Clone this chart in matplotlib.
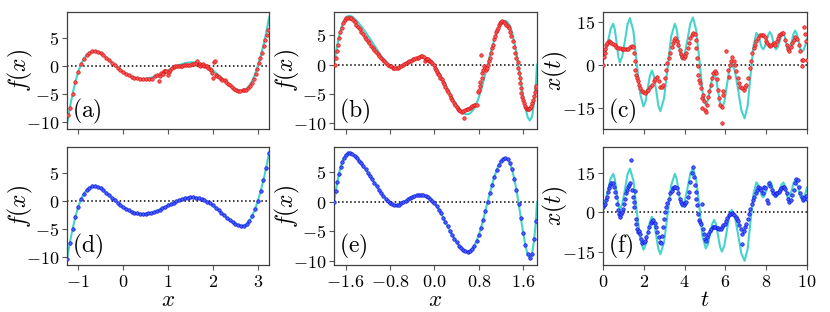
import matplotlib
matplotlib.use('Agg')
import matplotlib.pyplot as plt

plt.rcParams['mathtext.fontset'] = 'cm'
plt.rcParams['font.family'] = ['DejaVu Serif']

# ---------------- data ----------------
# panel (a)/(d): true function on x
AD_X = [-1.25,-1.1875,-1.125,-1.0625,-1.0,-0.9375,-0.875,-0.8125,-0.75,-0.6875,-0.625,-0.5625,-0.5,-0.4375,
        -0.375,-0.3125,-0.25,-0.1875,-0.125,-0.0625,0.0,0.0625,0.125,0.1875,0.25,0.3125,0.375,0.4375,0.5,0.5625,
        0.625,0.6875,0.75,0.8125,0.875,0.9375,1.0,1.0625,1.125,1.1875,1.25,1.3125,1.375,1.4375,1.5,1.5625,1.625,
        1.6875,1.75,1.8125,1.875,1.9375,2.0,2.0625,2.125,2.1875,2.25,2.3125,2.375,2.4375,2.5,2.5625,2.625,2.6875,
        2.75,2.8125,2.875,2.9375,3.0,3.0625,3.125,3.1875,3.25]
AD_Y = [-10.45,-7.55,-5.0,-2.83,-1.05,0.30,1.3,1.98,2.4,2.62,2.65,2.54,2.3,1.93,1.5,1.06,0.6,0.14,-0.3,-0.71,
        -1.08,-1.41,-1.7,-1.93,-2.1,-2.24,-2.32,-2.34,-2.3,-2.22,-2.1,-1.94,-1.75,-1.53,-1.3,-1.05,-0.8,-0.54,
        -0.28,-0.04,0.17,0.35,0.5,0.60,0.66,0.67,0.62,0.52,0.36,0.15,-0.12,-0.44,-0.8,-1.21,-1.65,-2.1,-2.55,
        -3.02,-3.45,-3.81,-4.1,-4.33,-4.45,-4.41,-4.15,-3.57,-2.7,-1.49,0.0,1.71,3.7,6.0,8.68]

# panel (a): red estimates
A_X = [-1.22,-1.1875,-1.125,-1.0625,-1.0,-0.9375,-0.875,-0.8125,-0.75,-0.6875,-0.625,-0.5625,-0.5,-0.4375,
       -0.375,-0.3125,-0.25,-0.1875,-0.125,-0.0625,0.0,0.0625,0.125,0.1875,0.25,0.3125,0.375,0.4375,
       0.50,0.57,0.65,0.70,0.76,0.79,0.82,0.85,0.88,0.91,0.93,0.96,0.99,1.02,1.05,1.09,1.13,1.16,1.20,1.24,
       1.28,1.32,1.36,1.41,1.45,1.50,1.54,1.59,1.62,1.65,1.68,1.71,1.72,1.75,1.78,1.81,1.84,1.87,1.90,1.93,
       1.96,1.98,2.00,2.03,2.04,2.06,2.09,2.13,2.17,2.21,2.26,2.30,2.34,2.39,2.43,2.48,2.52,2.57,2.61,2.66,
       2.70,2.74,2.79,2.83,2.87,2.91,2.95,2.98,3.02,3.06,3.09,3.13,3.17,3.20,3.23]
A_Y = [-8.9,-7.55,-5.0,-2.83,-1.05,0.30,1.3,1.98,2.4,2.62,2.65,2.54,2.3,1.93,1.5,1.06,0.6,0.14,-0.3,-0.71,
       -1.08,-1.41,-1.7,-1.93,-2.1,-2.24,-2.32,-2.34,
       -2.3,-2.4,-2.3,-1.9,-1.6,-2.7,-1.9,-1.3,-1.5,-1.0,-0.9,-1.0,-1.6,-1.1,-0.8,-0.4,-0.2,-0.1,-0.05,0.0,
       0.05,0.05,0.1,0.2,0.2,0.25,0.3,0.35,0.6,0.8,0.2,0.4,-0.1,0.2,0.3,0.05,-0.1,0.05,-0.3,-0.55,
       -0.7,-1.3,-2.2,0.65,0.95,-1.6,-1.8,-2.0,-2.3,-2.45,-2.6,-2.9,-3.2,-3.5,-3.8,-4.1,-4.4,-4.55,-4.5,-4.3,
       -4.3,-4.25,-4.0,-3.6,-3.1,-2.4,-1.5,-0.6,0.5,1.5,2.4,3.5,4.6,5.6,6.4]

# panel (b)/(e): true function on x
BE_X = [-1.81,-1.78,-1.75,-1.72,-1.69,-1.66,-1.63,-1.60,-1.56,-1.52,-1.48,-1.44,-1.40,-1.36,-1.32,-1.28,-1.24,
        -1.20,-1.16,-1.12,-1.08,-1.04,-1.00,-0.96,-0.92,-0.88,-0.84,-0.80,-0.76,-0.72,-0.68,-0.64,-0.60,-0.56,
        -0.52,-0.48,-0.44,-0.40,-0.36,-0.32,-0.28,-0.24,-0.20,-0.16,-0.12,-0.08,-0.04,0.00,0.04,0.08,0.12,0.16,
        0.20,0.24,0.28,0.32,0.36,0.40,0.44,0.48,0.52,0.56,0.60,0.64,0.68,0.72,0.76,0.80,0.84,0.88,0.92,0.96,
        1.00,1.04,1.08,1.12,1.16,1.20,1.24,1.28,1.32,1.36,1.40,1.44,1.48,1.52,1.56,1.60,1.64,1.68,1.72,1.76,
        1.80,1.83,1.85]
BE_Y = [0.0,1.8,3.4,4.8,5.9,6.8,7.5,7.95,8.25,8.3,8.15,7.85,7.45,7.0,6.55,6.0,5.5,4.95,4.4,3.8,3.25,2.65,2.05,
        1.5,1.0,0.55,0.15,-0.15,-0.4,-0.55,-0.55,-0.45,-0.25,0.0,0.2,0.45,0.65,0.85,1.0,1.1,1.2,1.22,1.2,1.05,
        0.8,0.5,0.15,-0.2,-0.7,-1.3,-1.95,-2.7,-3.4,-4.15,-4.9,-5.6,-6.25,-6.85,-7.4,-7.85,-8.2,-8.4,-8.45,
        -8.3,-7.95,-7.4,-6.6,-5.6,-4.4,-3.0,-1.5,0.0,1.5,2.9,4.2,5.35,6.3,6.95,7.35,7.45,7.2,6.6,5.5,3.9,2.0,
        -0.3,-2.8,-5.2,-7.3,-8.9,-9.5,-8.9,-6.3,-3.2,0.0]

# panel (b): red estimates
B_X = [-1.79,-1.77,-1.75,-1.73,-1.72,-1.70,-1.67,-1.65,-1.62,-1.59,-1.56,-1.53,-1.50,-1.47,-1.44,-1.41,-1.38,
       -1.35,-1.32,-1.29,-1.26,-1.23,-1.20,-1.17,-1.14,-1.11,-1.08,-1.05,-1.02,-0.99,-0.96,-0.93,-0.90,-0.87,
       -0.84,-0.80,-0.78,-0.75,-0.72,-0.69,-0.66,-0.63,-0.60,-0.57,-0.54,-0.51,-0.48,-0.45,-0.42,-0.39,-0.36,
       -0.33,-0.30,-0.27,-0.24,-0.22,-0.19,-0.17,-0.16,-0.14,-0.12,-0.10,-0.08,-0.06,-0.04,-0.01,0.01,0.03,
       0.05,0.07,0.08,0.11,0.13,0.16,0.18,0.20,0.23,0.25,0.28,0.30,0.32,0.35,0.37,0.40,0.42,0.44,0.47,0.49,
       0.52,0.54,0.56,0.59,0.61,0.64,0.66,0.68,0.71,0.73,0.76,0.78,0.80,0.82,0.83,0.84,0.85,0.86,0.88,0.89,
       0.91,0.93,0.95,0.97,0.98,1.00,1.02,1.04,1.06,1.07,1.09,1.11,1.13,1.15,1.16,1.18,1.20,1.22,1.25,1.27,
       1.30,1.32,1.34,1.37,1.39,1.42,1.44,1.46,1.48,1.50,1.51,1.52,1.54,1.55,1.56,1.57,1.58,1.60,1.61,1.63,
       1.65,1.67,1.69,1.70,1.72,1.74,1.76,1.78,1.79,1.81,1.83,1.84]
B_Y = [0,1.1,2.3,3.4,4.6,5.5,6.3,7.0,7.6,7.9,8.0,8.0,7.9,7.6,7.2,6.8,6.4,6.0,5.6,5.2,4.7,4.4,4.0,3.6,3.2,2.9,
       2.5,2.2,1.8,1.5,1.1,0.8,0.6,0.2,0,-0.2,-0.3,-0.5,-0.6,-0.6,-0.5,-0.4,-0.2,0,0.1,0.2,0.4,0.6,0.7,0.9,
       1.0,1.1,1.15,1.3,1.4,1.55,1.3,0.7,0.9,1.0,0.9,0.7,0.6,0.5,0.3,0.0,-0.5,-0.9,-1.3,-1.6,-1.8,-2.2,-2.5,
       -2.9,-3.3,-3.8,-4.3,-4.7,-5.2,-5.6,-6.1,-6.5,-6.9,-7.2,-7.5,-7.8,-7.9,-8.0,-7.9,-9.1,-7.7,-7.6,-7.5,
       -7.4,-7.2,-7.0,-6.9,-6.8,-6.8,-4.7,-4.3,-3.6,-3.0,1.7,-2.3,-1.4,-0.9,-0.3,-0.6,-0.9,-0.5,0,0.6,1.1,
       2.0,2.8,3.4,4.3,4.9,5.5,5.9,6.3,6.7,7.0,7.2,7.4,7.2,7.0,6.8,6.6,6.2,5.6,4.9,4.0,3.0,2.0,1.1,0.5,-0.5,
       -1.4,-2.3,-3.2,-4.0,-4.9,-5.5,-6.0,-6.6,-7.0,-7.4,-7.5,-7.6,-7.5,-7.4,-7.1,-6.6,-6.0,-5.3,-4.6,-4.0,-3.7]

# panel (c)/(f): true trajectory x(t)
CF_T = [0.0,0.125,0.25,0.375,0.50,0.58,0.67,0.75,0.83,0.95,1.08,1.20,1.32,1.49,1.65,1.82,1.98,2.09,2.19,2.30,
        2.40,2.50,2.61,2.71,2.81,2.99,3.17,3.34,3.52,3.61,3.70,3.79,3.88,4.01,4.15,4.28,4.41,4.57,4.73,4.88,
        5.04,5.14,5.25,5.35,5.45,5.55,5.64,5.74,5.83,5.95,6.07,6.19,6.31,6.47,6.63,6.78,6.94,7.09,7.23,7.38,
        7.52,7.60,7.69,7.77,7.85,7.93,8.02,8.10,8.18,8.26,8.33,8.41,8.48,8.57,8.66,8.75,8.84,8.90,8.97,9.03,
        9.09,9.17,9.26,9.34,9.42,9.50,9.59,9.67,9.75,9.83,9.92,10.0]
CF_Y = [2.5,4.25,8.5,12.75,14.5,12.53,7.75,2.97,1.0,3.26,8.75,14.24,16.5,12.0,0.85,-9.8,-14.3,-12.47,-8.05,
        -3.62,-1.8,-3.87,-8.9,-13.93,-16.0,-11.55,-0.75,10.05,14.5,12.67,8.25,3.83,2.0,4.15,9.35,14.55,16.7,
        12.25,1.45,-9.35,-13.8,-12.22,-8.4,-4.58,-3.0,-4.75,-9.0,-13.25,-15.0,-12.69,-7.1,-1.51,0.8,-2.02,
        -8.85,-15.68,-18.5,-14.15,-3.6,6.95,11.3,10.47,8.45,6.43,5.6,6.48,8.6,10.72,11.6,10.72,8.6,6.48,5.6,
        6.42,8.4,10.38,11.2,10.29,8.1,5.91,5.0,6.04,8.55,11.06,12.1,11.03,8.45,5.87,4.8,5.3,7.0,9.3]

# panel (c): red estimates
C_T = [0.0,0.05,0.08,0.12,0.17,0.21,0.28,0.35,0.41,0.50,0.58,0.66,0.74,0.83,0.91,0.99,1.07,1.16,1.24,1.32,
       1.40,1.45,1.52,1.55,1.59,1.62,1.67,1.72,1.77,1.83,1.90,1.98,2.07,2.15,2.23,2.31,2.40,2.48,2.56,2.64,
       2.73,2.81,2.89,2.96,3.02,3.09,3.16,3.22,3.29,3.36,3.42,3.49,3.55,3.62,3.69,3.75,3.82,3.88,3.95,4.02,
       4.08,4.15,4.21,4.28,4.35,4.43,4.50,4.55,4.58,4.61,4.64,4.68,4.71,4.76,4.79,4.83,4.84,4.91,4.96,5.01,
       5.06,5.09,5.14,5.21,5.27,5.34,5.40,5.47,5.54,5.60,5.65,5.70,5.75,5.82,5.83,5.87,5.90,6.03,6.12,6.20,
       6.23,6.28,6.33,6.40,6.46,6.53,6.60,6.66,6.73,6.81,6.89,6.96,7.02,7.11,7.19,7.26,7.32,7.39,7.45,7.52,
       7.60,7.69,7.77,7.85,7.92,7.98,8.05,8.12,8.18,8.25,8.31,8.38,8.45,8.51,8.58,8.64,8.71,8.78,8.84,8.93,
       9.01,9.09,9.14,9.21,9.27,9.34,9.42,9.50,9.59,9.67,9.74,9.77,9.80,9.83,9.90,9.95,9.98]
C_Y = [0.0,2.8,4.3,5.8,7.0,7.9,8.4,8.1,7.9,7.5,7.0,6.3,6.1,6.0,5.8,5.6,5.7,5.6,5.8,6.3,
       6.7,6.3,4.3,1.4,-1.5,-3.3,-4.4,-5.6,-6.8,-7.9,-8.9,-9.3,-9.6,-9.1,-8.5,-7.7,-6.8,-5.6,-4.7,-4.2,
       -5.6,-7.4,-7.7,-6.8,-4.4,-1.5,0.8,2.6,4.3,6.3,7.9,9.0,9.6,8.6,7.2,5.5,4.0,2.8,2.6,3.2,
       4.3,6.1,7.8,9.6,10.7,11.3,11.0,9.0,6.1,2.6,-0.4,-3.3,-5.0,-6.2,-7.9,-11.4,-14.9,-10.3,-12.6,-15.5,
       -16.3,-13.8,-10.9,-9.1,-6.8,-4.4,-2.7,-2.1,-2.7,-4.7,-8.5,-11.4,-13.8,-14.4,-20.0,-9.1,-10.5,5.1,-1.5,-3.9,
       0.2,1.4,2.8,1.6,0.2,-2.1,-4.4,-6.2,-7.4,-7.9,-8.5,-7.7,-6.8,-4.4,-0.9,1.4,4.3,6.1,7.2,8.4,
       9.6,10.5,10.7,10.5,9.8,8.6,7.8,7.0,6.7,7.2,7.5,7.7,7.2,8.4,9.6,10.5,11.0,11.3,11.2,9.0,
       7.2,5.8,5.1,6.3,7.8,9.0,9.8,9.3,7.2,4.9,2.0,-0.4,2.0,13.3,11.0,8.4,2.0]

# panel (f): blue estimates
F_T = [0.0,0.05,0.1,0.15,0.2,0.25,0.3,0.35,0.41,0.48,0.53,0.58,0.63,0.68,0.73,0.78,0.83,0.88,0.93,0.98,
       1.02,1.07,1.12,1.17,1.22,1.27,1.32,1.39,1.42,1.47,1.50,1.54,1.60,1.64,1.67,1.70,1.77,1.82,1.87,1.93,
       2.0,2.07,2.13,2.2,2.26,2.33,2.40,2.46,2.53,2.60,2.66,2.73,2.79,2.86,2.91,2.96,3.01,3.06,3.11,3.16,
       3.22,3.29,3.36,3.42,3.49,3.55,3.62,3.69,3.75,3.82,3.88,3.95,4.02,4.08,4.15,4.21,4.28,4.35,4.40,4.45,
       4.50,4.55,4.58,4.61,4.66,4.71,4.76,4.81,4.84,4.88,4.93,4.98,5.04,5.11,5.17,5.24,5.31,5.37,5.44,5.50,
       5.57,5.64,5.70,5.77,5.83,5.90,5.97,6.03,6.10,6.17,6.23,6.30,6.36,6.43,6.50,6.56,6.63,6.69,6.76,6.79,
       6.83,6.89,6.96,7.02,7.09,7.16,7.22,7.29,7.36,7.42,7.49,7.55,7.62,7.69,7.75,7.82,7.88,7.95,8.02,8.08,
       8.15,8.21,8.28,8.35,8.41,8.48,8.55,8.61,8.68,8.74,8.81,8.88,8.94,9.01,9.07,9.14,9.21,9.27,9.34,9.40,
       9.47,9.54,9.60,9.67,9.74,9.80,9.87,9.93,10.0,1.59]
F_Y = [1.9,2.6,3.2,4.5,5.8,7.7,9.0,10.3,11.2,10.9,9.6,7.7,5.8,3.2,0.6,-0.6,-1.9,-0.9,0.0,1.3,
       3.2,5.1,7.1,8.3,9.6,10.3,10.9,19.6,8.3,5.8,3.8,1.9,-2.6,-4.5,-6.4,-7.7,-7.3,-8.3,-10.3,-11.9,
       -11.5,-10.9,-9.6,-7.7,-5.5,-4.2,-3.5,-3.2,-4.2,-5.8,-7.7,-9.6,-11.5,-11.9,-9.0,-5.8,-2.6,0.0,1.9,3.5,
       5.1,7.1,8.1,9.0,9.6,9.6,9.0,7.1,5.1,3.8,3.2,2.6,3.5,3.8,5.8,7.7,11.5,14.7,17.1,13.5,
       10.3,7.7,5.1,2.6,-0.6,-2.9,-3.8,-4.5,3.2,-6.4,-8.3,-10.3,-10.9,-9.6,-8.3,-7.3,-6.4,-5.8,-5.8,-5.8,
       -6.0,-6.0,-6.4,-6.4,-5.8,-5.1,-4.5,-3.5,-2.2,-1.2,-0.6,-0.4,-0.6,-1.3,-1.9,-2.6,-3.5,-5.1,-6.4,-12.2,
       -8.3,-7.3,-5.8,-4.5,-2.6,-0.6,1.3,3.2,4.5,5.8,7.1,8.3,9.4,9.0,8.3,7.3,9.6,9.0,4.5,3.5,
       10.9,9.9,8.3,7.1,6.4,7.1,7.3,7.7,8.3,9.0,9.6,9.6,8.6,7.1,5.1,3.8,4.5,6.4,8.3,10.9,
       12.4,12.2,9.6,7.1,5.8,4.5,5.5,6.0,5.1,7.9]

# ticks
X_TICKS_AD = [-1, 0, 1, 2, 3]
X_LABELS_AD = ['-1', '0', '1', '2', '3']
X_TICKS_BE = [-1.6, -0.8, 0.0, 0.8, 1.6]
X_LABELS_BE = ['-1.6', '-0.8', '0.0', '0.8', '1.6']
X_TICKS_CF = [0, 2, 4, 6, 8, 10]
X_LABELS_CF = ['0', '2', '4', '6', '8', '10']
Y_TICKS_F = [-10, -5, 0, 5]
Y_LABELS_F = ['-10', '-5', '0', '5']
Y_TICKS_X = [-15, 0, 15]
Y_LABELS_X = ['-15', '0', '15']
PANEL_LABELS = ['(a)', '(b)', '(c)', '(d)', '(e)', '(f)']

# ---------------- figure ----------------
W, H = 830, 312
fig = plt.figure(figsize=(W / 100, H / 100), dpi=100)

cols = [(67, 269), (334, 537), (603, 807)]
rows = [(12.3, 129.3), (147, 265)]

CYAN = '#45D3CB'
RED_F, RED_E = '#ff5a5a', '#d81010'
BLU_F, BLU_E = '#4a62ff', '#0a14e0'


def m(s):
    return r'$\mathrm{%s}$' % s


axes = []
for r, (top, bot) in enumerate(rows):
    for c, (lft, rgt) in enumerate(cols):
        ax = fig.add_axes([lft / W, 1 - bot / H, (rgt - lft) / W, (bot - top) / H])
        axes.append(ax)

specs = [
    dict(cx=AD_X, cy=AD_Y, dx=A_X, dy=A_Y, col=(RED_F, RED_E), xlim=(-1.25, 3.25), ylim=(-11.4, 9.65),
         xt=X_TICKS_AD, xl=X_LABELS_AD, yt=Y_TICKS_F, yl=Y_LABELS_F, ylab=r'$f(x)$', xlab=None),
    dict(cx=BE_X, cy=BE_Y, dx=B_X, dy=B_Y, col=(RED_F, RED_E), xlim=(-1.81, 1.85), ylim=(-11.0, 8.9),
         xt=X_TICKS_BE, xl=X_LABELS_BE, yt=Y_TICKS_F, yl=Y_LABELS_F, ylab=r'$f(x)$', xlab=None),
    dict(cx=CF_T, cy=CF_Y, dx=C_T, dy=C_Y, col=(RED_F, RED_E), xlim=(0, 10), ylim=(-22.3, 18.5),
         xt=X_TICKS_CF, xl=X_LABELS_CF, yt=Y_TICKS_X, yl=Y_LABELS_X, ylab=r'$x(t)$', xlab=None),
    dict(cx=AD_X, cy=AD_Y, dx=AD_X, dy=AD_Y, col=(BLU_F, BLU_E), xlim=(-1.25, 3.25), ylim=(-11.5, 9.7),
         xt=X_TICKS_AD, xl=X_LABELS_AD, yt=Y_TICKS_F, yl=Y_LABELS_F, ylab=r'$f(x)$', xlab=r'$x$'),
    dict(cx=BE_X, cy=BE_Y, dx=BE_X[:-1], dy=BE_Y[:-1], col=(BLU_F, BLU_E), xlim=(-1.81, 1.85),
         ylim=(-10.7, 9.3), xt=X_TICKS_BE, xl=X_LABELS_BE, yt=Y_TICKS_F, yl=Y_LABELS_F, ylab=r'$f(x)$',
         xlab=r'$x$'),
    dict(cx=CF_T, cy=CF_Y, dx=F_T, dy=F_Y, col=(BLU_F, BLU_E), xlim=(0, 10), ylim=(-20.1, 24.7),
         xt=X_TICKS_CF, xl=X_LABELS_CF, yt=Y_TICKS_X, yl=Y_LABELS_X, ylab=r'$x(t)$', xlab=r'$t$'),
]

for i, (ax, s) in enumerate(zip(axes, specs)):
    ax.axhline(0, color='black', ls=':', lw=1.1, zorder=1)
    ax.plot(s['cx'], s['cy'], color=CYAN, lw=1.5, zorder=2)
    ax.plot(s['dx'], s['dy'], ls='none', marker='o', ms=2.5, mfc=s['col'][0], mec=s['col'][1],
            mew=0.5, zorder=3)
    ax.set_xlim(*s['xlim'])
    ax.set_ylim(*s['ylim'])
    ax.set_xticks(s['xt'])
    ax.set_yticks(s['yt'])
    ax.set_yticklabels([m(t) for t in s['yl']])
    if i >= 3:
        ax.set_xticklabels([m(t) for t in s['xl']])
        ax.set_xlabel(s['xlab'], fontsize=16.5, va='bottom')
        ax.xaxis.set_label_coords(0.5, -0.39)
    else:
        ax.set_xticklabels([])
    ax.set_ylabel(s['ylab'], fontsize=17)
    ax.yaxis.set_label_coords(-0.16, 0.5)
    ax.tick_params(direction='out', length=3.5, width=0.8, color='#555555', labelsize=13, pad=2)
    for sp in ax.spines.values():
        sp.set_color('#404040')
        sp.set_linewidth(0.9)
    ax.text(0.025, 0.03, m(PANEL_LABELS[i]), transform=ax.transAxes, fontsize=17,
            ha='left', va='bottom', zorder=5)

fig.savefig('out.png', dpi=100)
